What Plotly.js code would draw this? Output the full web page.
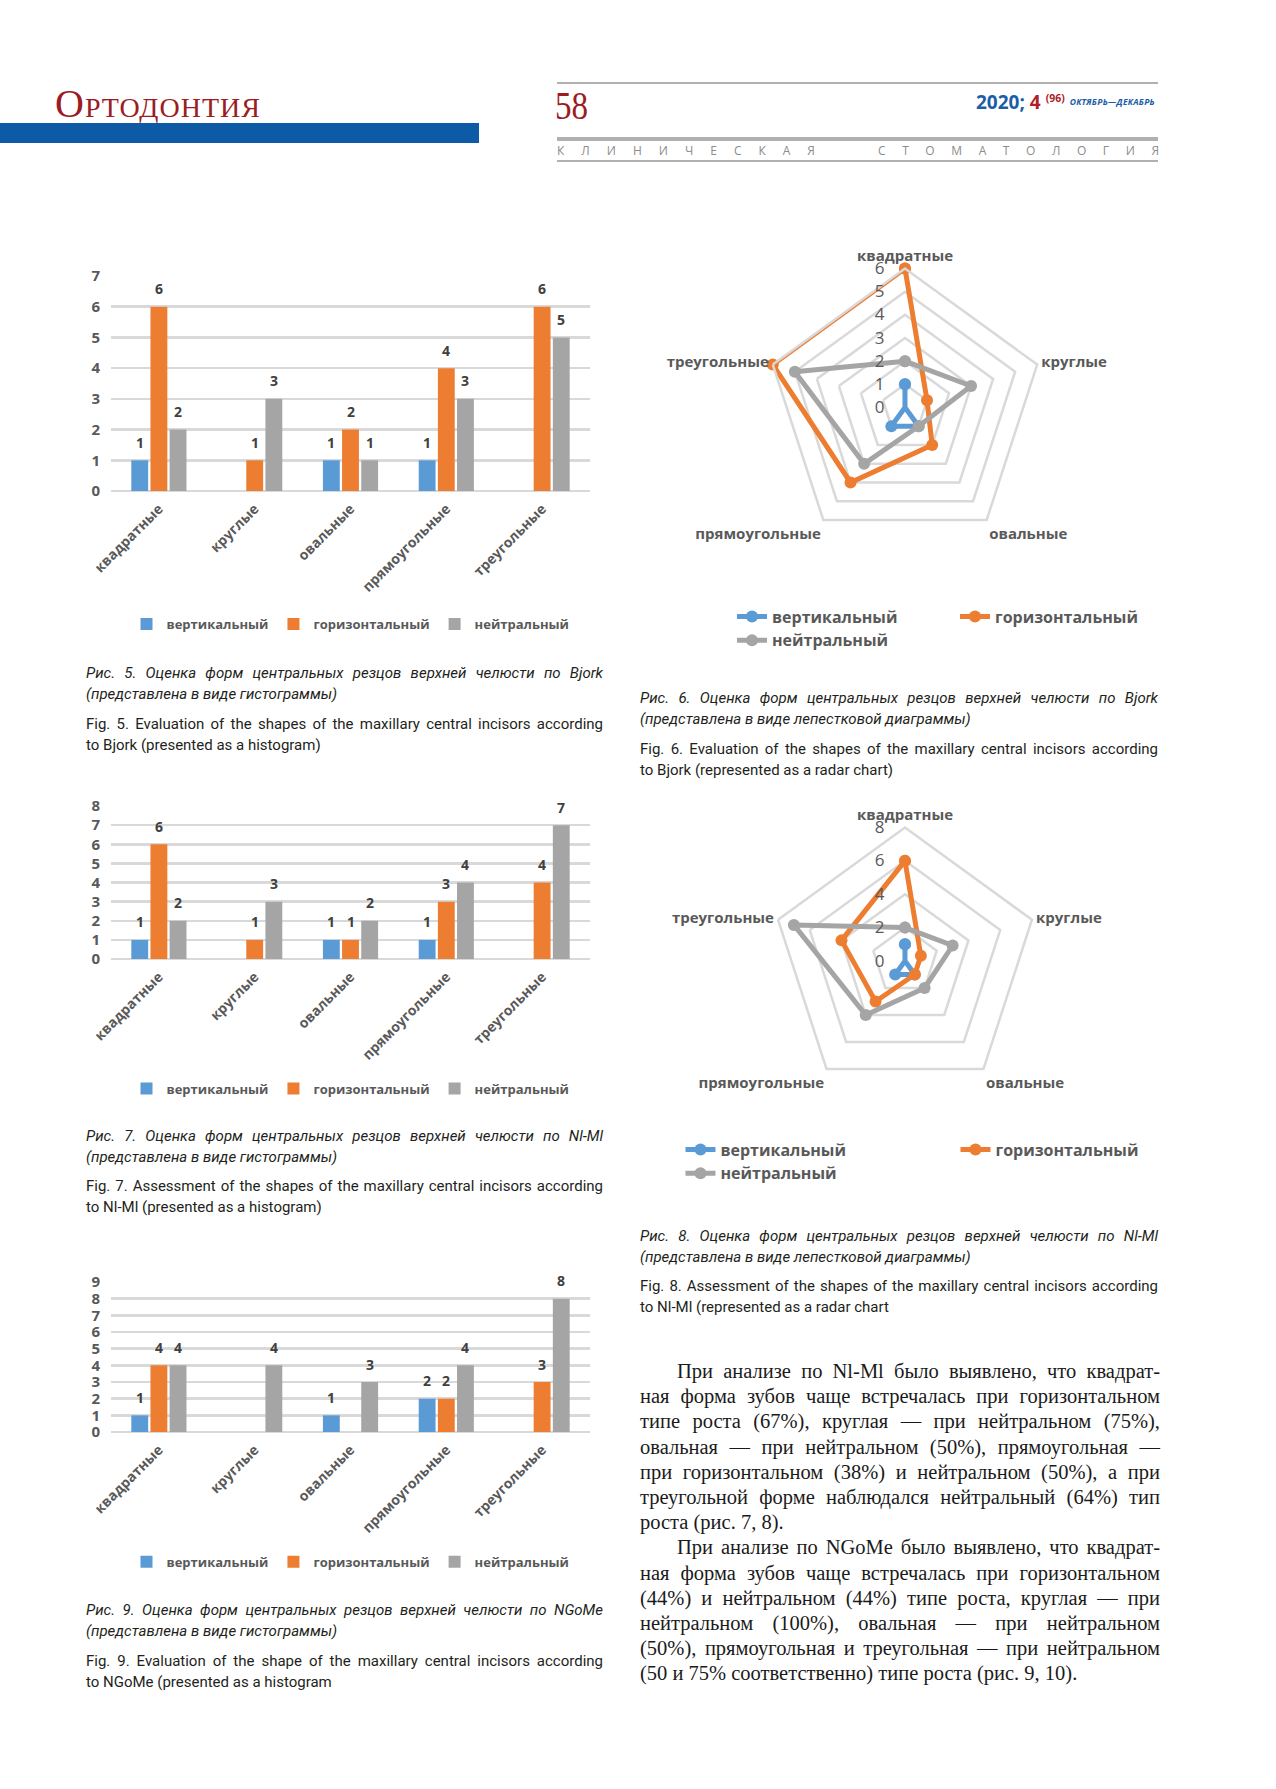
<!DOCTYPE html>
<html>
<head>
<meta charset="utf-8">
<script src="https://cdn.plot.ly/plotly-3.0.1.min.js"></script>
<style>
  html, body { margin: 0; padding: 0; background: #fff; }
  body { width: 1276px; height: 1789px; position: relative; overflow: hidden; }
  .abs { position: absolute; }
  .chart { position: absolute; }
  .cap { position: absolute; font-family: Roboto, "Open Sans", sans-serif; font-size: 15px; line-height: 20.5px; color: #231f20; }
  .cap.it { font-style: italic; }
  .j { text-align: justify; text-align-last: justify; }
  .body { position: absolute; left: 640px; top: 1359px; width: 520px; font-family: "Liberation Serif", "DejaVu Serif", serif; font-size: 20.5px; line-height: 25.2px; color: #1a1a1a; }
  .body div.ind { text-indent: 37px; }
  .spaced { position: absolute; display: flex; justify-content: space-between; font-family: "Open Sans", sans-serif; font-size: 12px; color: #8c8c8c; top: 142px; }
</style>
</head>
<body>

<!-- header -->
<div class="abs" style="left:55px;top:82px;font-family:'Liberation Serif',serif;font-size:40px;font-variant:small-caps;color:#9b1c22;letter-spacing:1px;line-height:44px;">Ортодонтия</div>
<div class="abs" style="left:0;top:123px;width:479px;height:20px;background:#0d5aa7;"></div>
<div class="abs" style="left:557px;top:82px;width:601px;height:2px;background:#b0b0b0;"></div>
<div class="abs" style="left:555px;top:84px;font-family:'Liberation Serif',serif;font-size:39px;color:#9b1c22;line-height:44px;transform:scaleX(0.85);transform-origin:left;">58</div>
<div class="abs" style="left:976px;top:86px;font-family:'Open Sans',sans-serif;font-weight:bold;font-size:19px;line-height:24px;color:#1b5ea6;white-space:nowrap;">2020; <span style="color:#b0202a">4</span> <span style="color:#b0202a;font-size:10.5px;vertical-align:7px;">(96)</span> <span style="font-size:8.5px;font-style:italic;vertical-align:4px;letter-spacing:0.3px;">ОКТЯБРЬ—ДЕКАБРЬ</span></div>
<div class="abs" style="left:557px;top:137px;width:601px;height:4px;background:#b0b0b0;"></div>
<div class="spaced" style="left:557px;width:258px;"><span>К</span><span>Л</span><span>И</span><span>Н</span><span>И</span><span>Ч</span><span>Е</span><span>С</span><span>К</span><span>А</span><span>Я</span></div>
<div class="spaced" style="left:878px;width:281px;"><span>С</span><span>Т</span><span>О</span><span>М</span><span>А</span><span>Т</span><span>О</span><span>Л</span><span>О</span><span>Г</span><span>И</span><span>Я</span></div>
<div class="abs" style="left:557px;top:160px;width:601px;height:2px;background:#b0b0b0;"></div>

<!-- charts -->
<div id="fig5" class="chart" style="left:40px;top:250px;"></div>
<div id="fig6" class="chart" style="left:620px;top:220px;"></div>
<div id="fig7" class="chart" style="left:40px;top:780px;"></div>
<div id="fig8" class="chart" style="left:620px;top:780px;"></div>
<div id="fig9" class="chart" style="left:40px;top:1255px;"></div>

<!-- captions -->
<div class="cap it" style="left:86px;top:663px;width:517px;">
  <div class="j">Рис. 5. Оценка форм центральных резцов верхней челюсти по Bjork</div>
  <div>(представлена в виде гистограммы)</div>
</div>
<div class="cap" style="left:86px;top:714px;width:517px;">
  <div class="j">Fig. 5. Evaluation of the shapes of the maxillary central incisors according</div>
  <div>to Bjork (presented as a histogram)</div>
</div>

<div class="cap it" style="left:640px;top:688px;width:518px;">
  <div class="j">Рис. 6. Оценка форм центральных резцов верхней челюсти по Bjork</div>
  <div>(представлена в виде лепестковой диаграммы)</div>
</div>
<div class="cap" style="left:640px;top:739px;width:518px;">
  <div class="j">Fig. 6. Evaluation of the shapes of the maxillary central incisors according</div>
  <div>to Bjork (represented as a radar chart)</div>
</div>

<div class="cap it" style="left:86px;top:1126px;width:517px;">
  <div class="j">Рис. 7. Оценка форм центральных резцов верхней челюсти по Nl-Ml</div>
  <div>(представлена в виде гистограммы)</div>
</div>
<div class="cap" style="left:86px;top:1176px;width:517px;">
  <div class="j">Fig. 7. Assessment of the shapes of the maxillary central incisors according</div>
  <div>to Nl-Ml (presented as a histogram)</div>
</div>

<div class="cap it" style="left:640px;top:1226px;width:518px;">
  <div class="j">Рис. 8. Оценка форм центральных резцов верхней челюсти по Nl-Ml</div>
  <div>(представлена в виде лепестковой диаграммы)</div>
</div>
<div class="cap" style="left:640px;top:1276px;width:518px;">
  <div class="j">Fig. 8. Assessment of the shapes of the maxillary central incisors according</div>
  <div>to Nl-Ml (represented as a radar chart</div>
</div>

<div class="cap it" style="left:86px;top:1600px;width:517px;">
  <div class="j">Рис. 9. Оценка форм центральных резцов верхней челюсти по NGoMe</div>
  <div>(представлена в виде гистограммы)</div>
</div>
<div class="cap" style="left:86px;top:1651px;width:517px;">
  <div class="j">Fig. 9. Evaluation of the shape of the maxillary central incisors according</div>
  <div>to NGoMe (presented as a histogram</div>
</div>

<!-- body text -->
<div class="body">
  <div class="j ind">При анализе по Nl-Ml было выявлено, что квадрат-</div>
  <div class="j">ная форма зубов чаще встречалась при горизонтальном</div>
  <div class="j">типе роста (67%), круглая — при нейтральном (75%),</div>
  <div class="j">овальная — при нейтральном (50%), прямоугольная —</div>
  <div class="j">при горизонтальном (38%) и нейтральном (50%), а при</div>
  <div class="j">треугольной форме наблюдался нейтральный (64%) тип</div>
  <div>роста (рис. 7, 8).</div>
  <div class="j ind">При анализе по NGoMe было выявлено, что квадрат-</div>
  <div class="j">ная форма зубов чаще встречалась при горизонтальном</div>
  <div class="j">(44%) и нейтральном (44%) типе роста, круглая — при</div>
  <div class="j">нейтральном (100%), овальная — при нейтральном</div>
  <div class="j">(50%), прямоугольная и треугольная — при нейтральном</div>
  <div>(50 и 75% соответственно) типе роста (рис. 9, 10).</div>
</div>

<script>
// ---------------- data ----------------
const categories = ['квадратные', 'круглые', 'овальные', 'прямоугольные', 'треугольные'];
const seriesNames = ['вертикальный', 'горизонтальный', 'нейтральный'];

// Bjork (Fig. 5, Fig. 6)
const bjorkVertical   = [1, null, 1, 1, null];
const bjorkHorizontal = [6, 1, 2, 4, 6];
const bjorkNeutral    = [2, 3, 1, 3, 5];

// Nl-Ml (Fig. 7, Fig. 8)
const nlmlVertical   = [1, null, 1, 1, null];
const nlmlHorizontal = [6, 1, 1, 3, 4];
const nlmlNeutral    = [2, 3, 2, 4, 7];

// NGoMe (Fig. 9)
const ngomeVertical   = [1, null, 1, 2, null];
const ngomeHorizontal = [4, null, null, 2, 3];
const ngomeNeutral    = [4, 4, 3, 4, 8];

// ---------------- style ----------------
const FONT = '"Open Sans", "Noto Sans", sans-serif';
const COLORS = ['#5b9bd5', '#ed7d31', '#a5a5a5'];
const TXT = '#595959';
const GRID = '#d9d9d9';
const CONFIG = {staticPlot: true, displayModeBar: false};

function barChart(id, seriesVals, ymax, d) {
  const bargap = 0.4, bargroupgap = 0.12;
  const plotW = d.w - d.l - d.r;
  const slot = plotW / categories.length * (1 - bargap) / seriesVals.length;
  const traces = seriesVals.map((vals, i) => ({
    type: 'bar', x: categories, y: vals, name: seriesNames[i],
    marker: {color: COLORS[i]}, hoverinfo: 'skip'
  }));
  const annotations = [];
  seriesVals.forEach((vals, i) => vals.forEach((v, j) => {
    if (v == null) return;
    annotations.push({
      x: categories[j], y: v, xref: 'x', yref: 'y', text: String(v), showarrow: false,
      xshift: (i - (seriesVals.length - 1) / 2) * slot, yshift: 18,
      font: {family: FONT, size: 14, color: '#404040', weight: 'bold'}
    });
  }));
  const layout = {
    width: d.w, height: d.h,
    margin: {l: d.l, r: d.r, t: d.t, b: d.b, pad: 0, autoexpand: false},
    paper_bgcolor: 'rgba(0,0,0,0)', plot_bgcolor: 'rgba(0,0,0,0)',
    barmode: 'group', bargap: bargap, bargroupgap: bargroupgap,
    font: {family: FONT, color: TXT},
    xaxis: {type: 'category', tickangle: -45, showgrid: false, zeroline: false, showline: false,
      ticks: '', ticklabelstandoff: 6, tickfont: {family: FONT, size: 14, weight: 'bold', color: TXT}, fixedrange: true},
    yaxis: {range: [0, ymax], tick0: 0, dtick: 1, showgrid: true, gridcolor: GRID, gridwidth: 2.5,
      zeroline: true, zerolinecolor: GRID, zerolinewidth: 2.5, showline: false, ticks: '',
      ticklabelstandoff: 10, tickfont: {family: FONT, size: 15, weight: 'bold', color: TXT}, fixedrange: true},
    showlegend: true,
    legend: {orientation: 'h', x: 0.5, xanchor: 'center', y: d.legY, yanchor: 'middle',
      font: {family: FONT, size: 13, weight: 'bold', color: TXT}, traceorder: 'normal'},
    annotations: annotations
  };
  Plotly.newPlot(id, traces, layout, CONFIG);
}

function radarChart(id, seriesVals, rmax, dtick, d) {
  const traces = seriesVals.map((vals, i) => {
    const r = vals.map(v => (v == null ? 0 : v));
    return {
      type: 'scatterpolar', r: r.concat([r[0]]), theta: categories.concat([categories[0]]),
      mode: 'lines+markers', name: seriesNames[i],
      line: {color: COLORS[i], width: 5}, marker: {color: COLORS[i], size: 12},
      cliponaxis: false, hoverinfo: 'skip'
    };
  });
  const layout = {
    width: d.w, height: d.h,
    margin: {l: 0, r: 0, t: 0, b: d.b, pad: 0, autoexpand: false},
    paper_bgcolor: 'rgba(0,0,0,0)',
    font: {family: FONT, color: TXT},
    polar: {
      domain: {x: d.dx, y: d.dy}, bgcolor: 'rgba(0,0,0,0)', gridshape: 'linear',
      angularaxis: {type: 'category', categoryarray: categories, rotation: 90, direction: 'clockwise',
        showgrid: false, showline: true, linecolor: GRID, linewidth: 2.5, ticks: '',
        tickfont: {family: FONT, size: 15, weight: 'bold', color: TXT}},
      radialaxis: {range: [0, rmax], tick0: 0, dtick: dtick, angle: 90, tickangle: 90, side: 'counterclockwise',
        showline: false, ticks: 'outside', ticklen: 14, tickcolor: 'rgba(0,0,0,0)',
        gridcolor: GRID, gridwidth: 2.5,
        tickfont: {family: FONT, size: 17, color: TXT}}
    },
    showlegend: true,
    legend: {orientation: 'h', x: d.legX, xanchor: 'left', y: d.legY, yanchor: 'top',
      entrywidth: d.entryW, entrywidthmode: 'pixels',
      font: {family: FONT, size: 16, weight: 'bold', color: TXT}, traceorder: 'normal'}
  };
  Plotly.newPlot(id, traces, layout, CONFIG);
}

barChart('fig5', [bjorkVertical, bjorkHorizontal, bjorkNeutral], 7,
  {w: 580, h: 400, l: 71, r: 30, t: 26, b: 159, legY: -0.619});
barChart('fig7', [nlmlVertical, nlmlHorizontal, nlmlNeutral], 8,
  {w: 580, h: 340, l: 71, r: 30, t: 26, b: 161, legY: -0.847});
barChart('fig9', [ngomeVertical, ngomeHorizontal, ngomeNeutral], 9,
  {w: 580, h: 340, l: 71, r: 30, t: 27, b: 163, legY: -0.865});

radarChart('fig6', [bjorkVertical, bjorkHorizontal, bjorkNeutral], 6, 1,
  {w: 560, h: 460, b: 130, dx: [0.2607, 0.7571], dy: [0.0106, 0.853], legX: 0.2, legY: -0.15, entryW: 178});
radarChart('fig8', [nlmlVertical, nlmlHorizontal, nlmlNeutral], 8, 2,
  {w: 560, h: 440, b: 120, dx: [0.2705, 0.7473], dy: [0.0172, 0.8516], legX: 0.108, legY: -0.1016, entryW: 230});
</script>
</body>
</html>
